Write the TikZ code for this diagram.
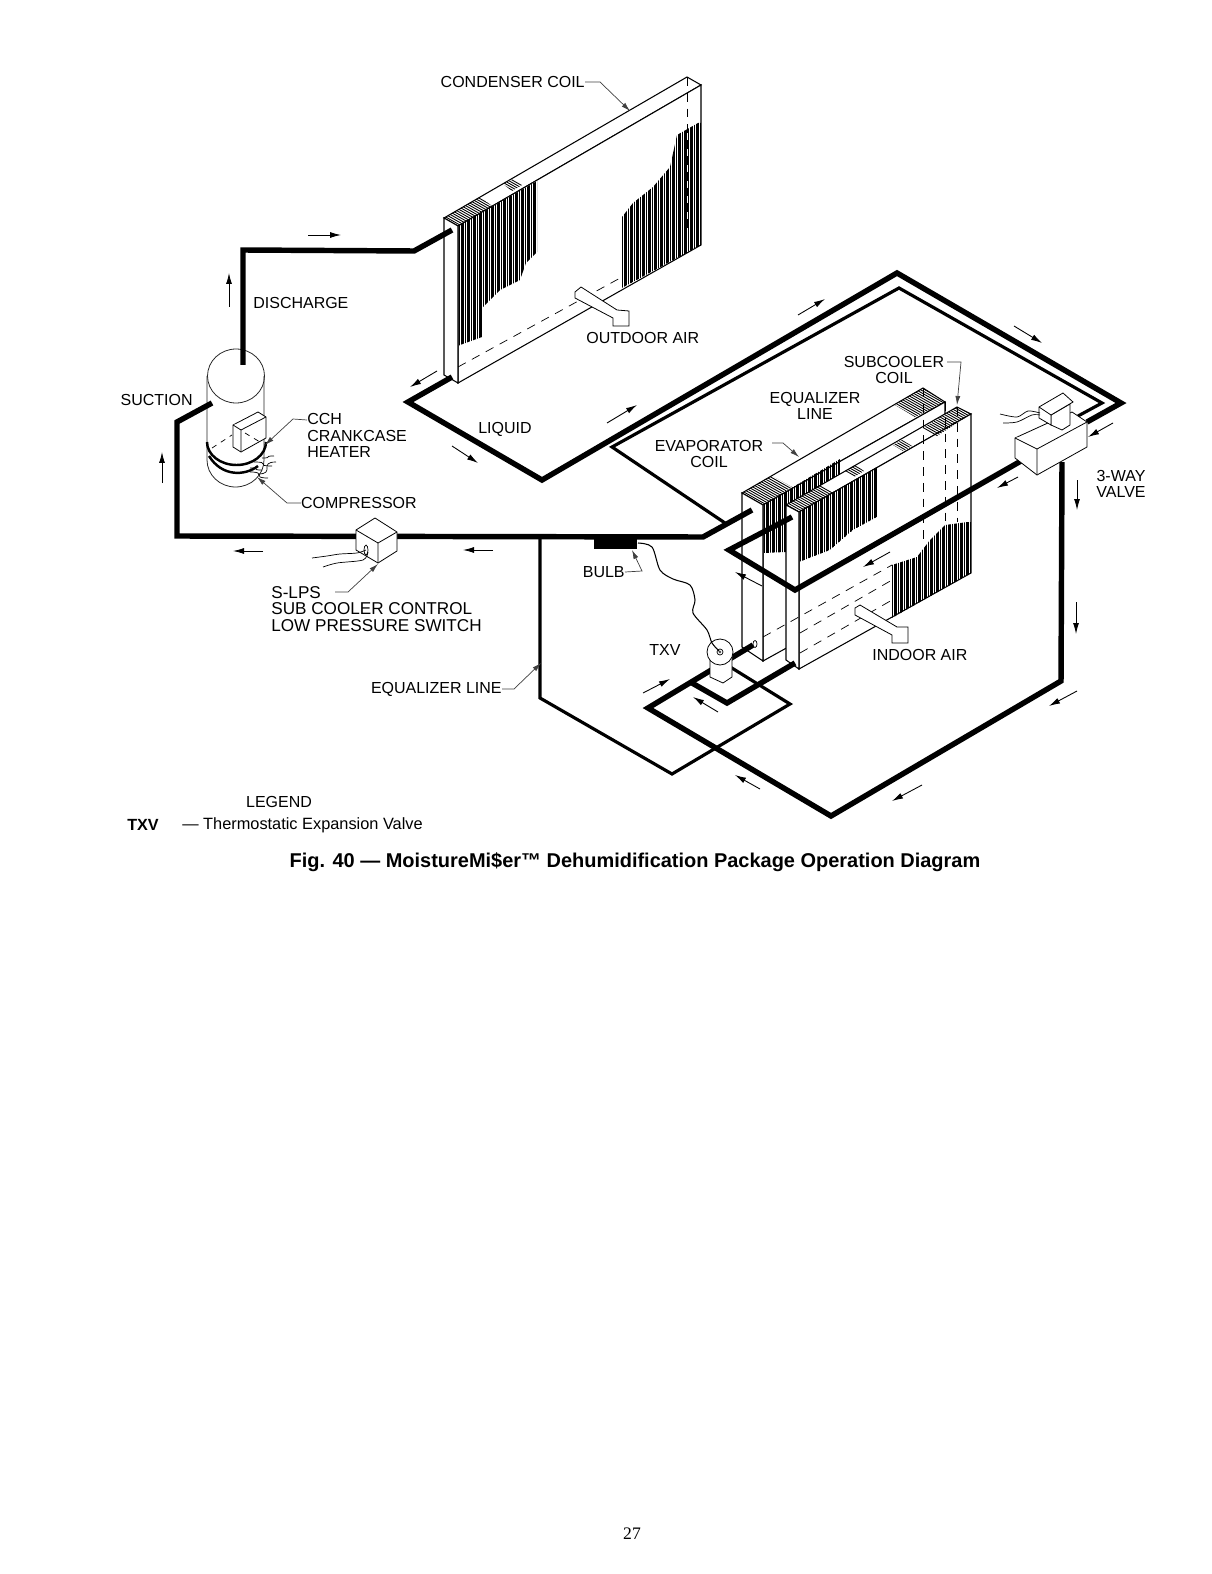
\documentclass[tikz,border=0pt]{standalone}
\usepackage{fontspec}
\setmainfont{Liberation Sans}
\newfontfamily\pagefont{Liberation Serif}
\usetikzlibrary{arrows.meta,calc}
% fins: clip to an outline, then vertical lines
\newcommand{\finbank}[2]{\begin{scope}
  \clip #1;
  \foreach \x [count=\k] in {#2}{
    \pgfmathsetmacro\w{mod(\k,3)==0?1.05:0.5}
    \draw[line width=\w pt] (\x,0)--(\x,900);
  }
\end{scope}}
% top face hatching, centre given as x,y
\newcommand{\tophatch}[3]{\begin{scope}
  \clip #1;
  \foreach \k in {-26,...,26}{
    \draw[line width=0.5pt] (#2+\k*2.2-30,#3-\k*1.27-17)--(#2+\k*2.2+30,#3-\k*1.27+17);
  }
\end{scope}}
\begin{document}
\begin{tikzpicture}[x=0.02cm,y=-0.02cm,
  lab/.style={font=\fontsize{9.1}{9.4}\selectfont,inner sep=0pt,align=center},
  coil/.style={draw,fill=white,line width=0.6pt},
  boxface/.style={draw,fill=white,line width=0.45pt},
  pipe/.style={line width=3.1pt},
  eqpipe/.style={line width=1.8pt},
  hidden/.style={line width=0.4pt,dash pattern=on 5pt off 4pt},
  flow/.style={-{Latex[length=2.2mm,width=1.2mm]},line width=0.5pt},
  leader/.style={-{Latex[length=1.8mm,width=1mm]},line width=0.4pt,black!75},
  wire/.style={line width=0.4pt}]
\useasboundingbox (0,0) rectangle (1212,1574);
\foreach \n/\x/\y in {
  cmpout/243/365, dis1/243/250, dis2/414/251, condin/452/230,
  condout/452/377, liq1/408/402, liq2/542/480, liq3/897/273, liq4/1121/403, valvein/1087/422,
  inner0/640/467, inner1/612/447, inner2/899/288, inner3/1102/403, valvein2/1078/416, innerend/725/523,
  evapout/752/510, suc1/703/537, suc2/177/536, suc3/177/422, cmpin/212/403,
  valveout/1028/457, sub1/795/590, sub2/729/550, subin/792/517,
  valvedown/1062/462, ret1/1061/681, ret2/831/816, ret3/648/708, txvin/753/645,
  br0/692/683, br1/727/703, brend/795/663,
  eq0/540/537, eq1/540/698, eq2/672/774, eq3/790/704, eq4/727/665}{
  \coordinate (\n) at (\x,\y);
}
%% condenser coil
\draw[coil] (444,218)--(687,77)--(701,85)--(458,226)--cycle;
\draw[coil] (458,226)--(701,85)--(701,245)--(458,383)--cycle;
\draw[coil] (444,218)--(458,226)--(458,383)--(444,375)--cycle;
\tophatch{(444,218)--(458,226)--(492,206)--(480,197)--cycle}{468}{212}
\tophatch{(503,184)--(513,179)--(522,185)--(512,191)--cycle}{512}{185}
\finbank{(458,226)--(537,181)--(537,252)--(526,263)--(520,280)--(500,290)--(483,307)--(482,337)--(460,345)--(458,346)--cycle}{459,461,...,537}
\finbank{(622,217)--(633,203)--(653,187)--(670,167)--(677,135)--(698,123)--(701,123)--(701,245)--(622,288)--cycle}{622,624,...,701}
\draw[hidden] (458,367)--(622,277);
\draw[hidden] (687,77)--(687,230);
\draw[boxface] (575,292)--(581,287)--(617,310)--(629,311)--(629,326)--(613,326)--(613,318)--(575,298)--cycle;
%% evaporator coil, back
\draw[coil] (742,493)--(923,388)--(945,402)--(763,505)--cycle;
\draw[coil] (763,505)--(945,402)--(945,560)--(763,661)--cycle;
\draw[coil] (742,493)--(763,505)--(763,661)--(742,647)--cycle;
\tophatch{(742,493)--(763,505)--(792,487)--(772,476)--cycle}{767}{490}
\tophatch{(895,405)--(923,388)--(945,402)--(915,417)--cycle}{920}{402}
\finbank{(763,505)--(840,459)--(840,540)--(786,552)--(763,553)--cycle}{764,766,...,840}
%% evaporator coil, front
\draw[coil] (786,505)--(957,407)--(971,414)--(799,512)--cycle;
\draw[coil] (799,512)--(971,414)--(971,573)--(799,669)--cycle;
\draw[coil] (786,505)--(799,512)--(799,669)--(786,660)--cycle;
\tophatch{(786,505)--(799,512)--(833,492)--(820,485)--cycle}{810}{498}
\tophatch{(845,471)--(855,465)--(864,471)--(854,477)--cycle}{855}{471}
\tophatch{(893,445)--(902,440)--(912,446)--(903,451)--cycle}{903}{446}
\tophatch{(923,428)--(957,407)--(971,414)--(937,436)--cycle}{947}{421}
\finbank{(799,512)--(877,467)--(877,517)--(853,530)--(830,550)--(799,562)--cycle}{800,802,...,877}
\finbank{(892,565)--(917,557)--(930,540)--(945,525)--(968,522)--(971,522)--(971,573)--(892,618)--cycle}{892,894,...,971}
\foreach \x/\ya/\yb in {923/388/543,945/402/525,957/407/522}{
  \draw[hidden] (\x,\ya)--(\x,\yb);
}
\draw[hidden] (763,637)--(892,565);
\draw[hidden] (800,633)--(892,580);
\draw[hidden] (800,653)--(892,600);
\draw[boxface] (855,608)--(860,605)--(897,627)--(908,627)--(908,643)--(892,643)--(892,635)--(855,615)--cycle;
%% compressor
\draw[line width=0.45pt,black!85] (207,376)--(207,460) arc[start angle=180,end angle=0,x radius=28.5,y radius=27]--(264,376);
\draw[line width=0.45pt,black!85] (236,376) ellipse[x radius=28.5,y radius=27];
\draw[boxface] (233,425)--(258,412)--(266,417)--(266,438)--(241,452)--(233,447)--cycle;
\draw[boxface] (233,425)--(241,430)--(266,417) (241,430)--(241,452);
\draw[line width=0.4pt,dashed] (212,448)--(232,435) (245,433)--(260,442);
\draw[line width=1.4pt] (207,442) arc[start angle=180,end angle=0,x radius=29.5,y radius=23];
\draw[line width=1.4pt] (209,456) .. controls (222,477) and (245,476) .. (258,466);
\foreach \a/\b/\c/\d in {250/468/262/470,254/462/272/466,258/474/276/462,250/472/268/478,262/458/274/456}{
  \draw[wire] (\a,\b) .. controls (\c,\b) and (\a,\d) .. (\c,\d);
}
%% refrigerant lines
\draw[pipe] (cmpout)--(dis1)--(dis2)--(condin);
\draw[pipe] (condout)--(liq1)--(liq2)--(liq3)--(liq4)--(valvein);
\draw[eqpipe] (innerend)--(inner1)--(inner2)--(inner3)--(valvein2);
\draw[pipe] (evapout)--(suc1)--(suc2)--(suc3)--(cmpin);
\draw[pipe] (valveout)--(sub1)--(sub2)--(subin);
\draw[pipe] (valvedown)--(ret1)--(ret2)--(ret3)--(txvin);
\draw[pipe] (br0)--(br1)--(brend);
\draw[eqpipe] (eq0)--(eq1)--(eq2)--(eq3)--(eq4);
%% s-lps switch
\draw[boxface] (375,518)--(397,532)--(397,551)--(378,563)--(356,550)--(356,530)--cycle;
\draw[boxface] (356,530)--(378,543)--(397,532) (378,543)--(378,563);
\draw[wire] (366,550) ellipse[x radius=2,y radius=5];
\draw[wire] plot[smooth] coordinates {(312,558) (327,556) (340,554) (357,553) (366,550)};
\draw[wire] plot[smooth] coordinates {(323,567) (337,563) (363,560) (368,552)};
%% bulb and txv
\fill (594,538) rectangle (637,549);
\draw[boxface] (710,655)--(710,677)--(723,683)--(732,677)--(732,655);
\draw[boxface] (720,652) ellipse[x radius=13,y radius=13];
\draw[line width=0.6pt] plot[smooth] coordinates {(638,543) (652,547) (660,570) (673,579) (690,585) (695,600) (693,613) (707,630) (712,643) (720,652)};
\draw[line width=0.4pt] (720,652) circle[radius=3];
\fill[black!70] (720,652) circle[radius=1.4];
\draw[line width=0.4pt,fill=white] (755,644) ellipse[x radius=2,y radius=3.5];
%% 3-way valve
\draw[boxface] (1015,438)--(1072,412)--(1087,422)--(1087,447)--(1037,475)--(1015,458)--cycle;
\draw[boxface] (1015,438)--(1037,449)--(1087,422) (1037,449)--(1037,475);
\draw[boxface] (1051,415)--(1070,404)--(1070,425)--(1062,430)--(1051,425)--cycle;
\draw[boxface] (1039,407)--(1063,393)--(1073,402)--(1051,415)--(1051,425)--(1039,418)--cycle;
\draw[line width=0.45pt] (1039,407)--(1051,415);
\draw[wire] plot[smooth] coordinates {(1000,414) (1017,417) (1028,411) (1040,413)};
\draw[wire] plot[smooth] coordinates {(1003,423) (1017,422) (1032,415) (1040,415)};
%% flow arrows
\foreach \xa/\ya/\xb/\yb in {229/307/229/273, 308/235/341/235, 162/483/162/452,
  263/551/233/551, 493/550/463/550, 437/371/410/387, 452/446/478/463, 607/423/637/405,
  798/315/825/299, 1014/326/1042/343, 1113/423/1088/437, 1018/477/997/488,
  1077/480/1077/510, 1076/602/1076/634, 1077/691/1049/706, 922/785/892/801,
  760/789/735/775, 718/712/693/697, 643/693/670/679, 890/552/863/567, 762/586/735/572}{
  \draw[flow] (\xa,\ya)--(\xb,\yb);
}
%% labels
\node[lab,anchor=east] (condcoil) at (585,82) {CONDENSER COIL};
\node[lab,anchor=west] (discharge) at (253,303) {DISCHARGE};
\node[lab,anchor=east] (suction) at (193,400) {SUCTION};
\node[lab,anchor=west] (outdoor) at (586,338) {OUTDOOR AIR};
\node[lab,anchor=west] (liquid) at (478,429) {LIQUID};
\node[lab,anchor=north west,align=left] (cch) at (307,413) {CCH\\CRANKCASE\\HEATER};
\node[lab,anchor=east] (compressor) at (417,503) {COMPRESSOR};
\node[lab,anchor=north west,align=left,font=\fontsize{9.75}{9.4}\selectfont] (slps) at (271,586) {S-LPS\\SUB COOLER CONTROL\\LOW PRESSURE SWITCH};
\node[lab,anchor=east] (bulb) at (625,572) {BULB};
\node[lab] (txvlab) at (665,650) {TXV};
\node[lab,anchor=east] (eqlab) at (502,689) {EQUALIZER LINE};
\node[lab] (sublab) at (894,370) {SUBCOOLER\\COIL};
\node[lab] (eqlab2) at (815,406) {EQUALIZER\\LINE};
\node[lab] (evaplab) at (709,454) {EVAPORATOR\\COIL};
\node[lab] (waylab) at (1121,484) {3-WAY\\VALVE};
\node[lab,anchor=west] (indoor) at (872,655) {INDOOR AIR};
\node[lab] (legend) at (279,802) {LEGEND};
\node[font=\fontsize{9.2}{10}\selectfont\bfseries,inner sep=0pt] (txvkey) at (143,825) {TXV};
\node[font=\fontsize{9.3}{10}\selectfont,inner sep=0pt,anchor=west] (txvtext) at (182,825) {— Thermostatic Expansion Valve};
\node[font=\fontsize{11.36}{12}\selectfont\bfseries,inner sep=0pt] (title) at (635,862) {Fig. 40 — MoistureMi\$er™ Dehumidification Package Operation Diagram};
\node[font=\fontsize{10}{12}\selectfont\pagefont,inner sep=0pt] (pageno) at (632,1534) {27};
%% leaders
\coordinate (condtip) at (630,111);
\coordinate (cchtip) at (265,445);
\coordinate (comptip) at (257,477);
\coordinate (slpstip) at (378,564);
\coordinate (bulbtip) at (632,550);
\coordinate (eqtip) at (541,663);
\coordinate (evaptip) at (799,457);
\coordinate (subtip) at (957,405);
\draw[leader] (condcoil.east)--(600,82)--(condtip);
\draw[leader] (307,420)--(293,419)--(cchtip);
\draw[leader] (compressor.west)--(287,503)--(comptip);
\draw[leader] (335,592)--(348,592)--(slpstip);
\draw[leader] (bulb.east)--(642,571)--(bulbtip);
\draw[leader] (eqlab.east)--(514,689)--(eqtip);
\draw[leader] (772,443)--(783,443)--(evaptip);
\draw[leader] (947,362)--(961,362)--(subtip);
\end{tikzpicture}
\end{document}
